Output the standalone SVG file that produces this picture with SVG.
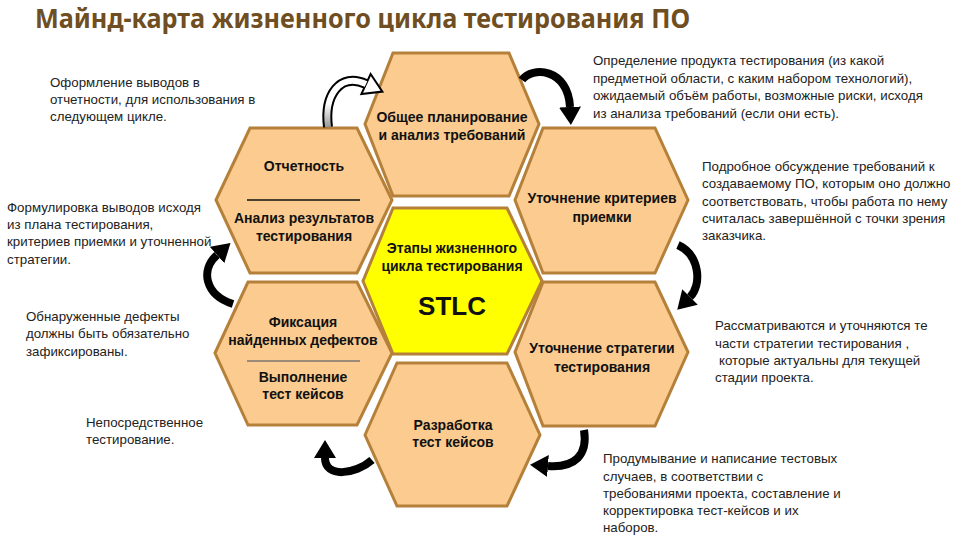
<svg xmlns="http://www.w3.org/2000/svg" width="965" height="537" viewBox="0 0 965 537">
<style>
.hex{fill:#FBCB8F;stroke:#B5803A;stroke-width:3;stroke-linejoin:miter}
.core{fill:#FFFF00;stroke:#B5803A;stroke-width:3}
.nt{font-family:"Liberation Sans",Arial,sans-serif;font-weight:bold;font-size:14px;fill:#111;text-anchor:middle}
.dt{font-family:"Liberation Sans",Arial,sans-serif;font-size:13.3px;fill:#222}
.arr{fill:none;stroke:#000;stroke-width:8;stroke-linecap:butt}
.title{font-family:"Noto Sans","Open Sans",sans-serif;font-weight:bold;font-size:26px;fill:#6F4E22}
</style>
<defs>
<marker id="ah" markerWidth="20" markerHeight="22" refX="0" refY="11" orient="auto" markerUnits="userSpaceOnUse">
<path d="M0,0 L18,11 L0,22 Z" fill="#000"/>
</marker>
<linearGradient id="g1" gradientUnits="userSpaceOnUse" x1="0" y1="75" x2="0" y2="127">
<stop offset="0" stop-color="#ffffff"/>
<stop offset="0.55" stop-color="#ffffff"/>
<stop offset="1" stop-color="#9a9a9a"/>
</linearGradient>
</defs>
<rect width="965" height="537" fill="#fff"/>
<text class="title" x="35" y="28" textLength="655" lengthAdjust="spacingAndGlyphs">Майнд-карта жизненного цикла тестирования ПО</text>

<g id="n-plan">
<polygon class="hex" points="365,124 393,53 509,53 539,124 509,196 393,196"/>
<text class="nt" x="452" y="122">Общее планирование</text>
<text class="nt" x="452" y="140">и анализ требований</text>
</g>
<g id="n-report">
<polygon class="hex" points="216,200 250,128 357,128 392,200 357,273 250,273"/>
<text class="nt" x="304" y="171">Отчетность</text>
<line x1="247" y1="200" x2="360" y2="200" stroke="#111" stroke-width="1.3"/>
<text class="nt" x="304" y="223">Анализ результатов</text>
<text class="nt" x="304" y="241">тестирования</text>
</g>
<g id="n-criteria">
<polygon class="hex" points="515,200 543,128 655,128 688,200 655,273 543,273"/>
<text class="nt" x="602" y="203">Уточнение критериев</text>
<text class="nt" x="602" y="222">приемки</text>
</g>
<g id="n-center">
<polygon class="core" points="363,281 393,208 507,208 542,281 507,354 393,354"/>
<text class="nt" x="452" y="253">Этапы жизненного</text>
<text class="nt" x="452" y="271">цикла тестирования</text>
<text class="nt" x="452" y="315" style="font-size:26px">STLC</text>
</g>
<g id="n-defects">
<polygon class="hex" points="215,353 248,282 357,282 392,353 357,425 248,425"/>
<text class="nt" x="303" y="327">Фиксация</text>
<text class="nt" x="303" y="345">найденных дефектов</text>
<line x1="247" y1="361" x2="360" y2="361" stroke="#9C8B78" stroke-width="2"/>
<text class="nt" x="303" y="382">Выполнение</text>
<text class="nt" x="303" y="399">тест кейсов</text>
</g>
<g id="n-strategy">
<polygon class="hex" points="515,352 543,282 655,282 688,352 655,426 543,426"/>
<text class="nt" x="602" y="353">Уточнение стратегии</text>
<text class="nt" x="602" y="372">тестирования</text>
</g>
<g id="n-cases">
<polygon class="hex" points="365,435 397,363 507,363 540,435 507,506 397,506"/>
<text class="nt" x="453" y="430">Разработка</text>
<text class="nt" x="453" y="447">тест кейсов</text>
</g>

<g id="connectors">
<path d="M328,127 C324,95 340,72 366,84" fill="none" stroke="#000" stroke-width="10"/>
<polygon points="370.6,74 382.4,91.6 361.4,94" fill="#fff" stroke="#000" stroke-width="2" stroke-linejoin="miter"/>
<path d="M328,127 C324,95 340,72 366,84" fill="none" stroke="url(#g1)" stroke-width="6"/>
<path class="arr" d="M522,80 C532,66 568,68 570,107" marker-end="url(#ah)"/>
<path class="arr" d="M678,245 C700,255 702,285 690,297" marker-end="url(#ah)"/>
<path class="arr" d="M584,430 C588,455 575,468 548,466" marker-end="url(#ah)"/>
<path class="arr" d="M372,460 C355,475 325,478 325,458" marker-end="url(#ah)"/>
<path class="arr" d="M233,304 C205,295 200,270 217,255" marker-end="url(#ah)"/>
</g>

<g id="notes">
<text class="dt" x="50" y="87">Оформление выводов в</text>
<text class="dt" x="50" y="104">отчетности, для использования в</text>
<text class="dt" x="50" y="121">следующем цикле.</text>

<text class="dt" x="7" y="212">Формулировка выводов исходя</text>
<text class="dt" x="7" y="229">из плана тестирования,</text>
<text class="dt" x="7" y="246">критериев приемки и уточненной</text>
<text class="dt" x="7" y="264">стратегии.</text>

<text class="dt" x="26" y="321">Обнаруженные дефекты</text>
<text class="dt" x="26" y="338">должны быть обязательно</text>
<text class="dt" x="26" y="356">зафиксированы.</text>

<text class="dt" x="86" y="427">Непосредственное</text>
<text class="dt" x="86" y="444">тестирование.</text>

<text class="dt" x="593" y="65">Определение продукта тестирования (из какой</text>
<text class="dt" x="593" y="83">предметной области, с каким набором технологий),</text>
<text class="dt" x="593" y="100">ожидаемый объём работы, возможные риски, исходя</text>
<text class="dt" x="593" y="118">из анализа требований (если они есть).</text>

<text class="dt" x="702" y="171">Подробное обсуждение требований к</text>
<text class="dt" x="702" y="188">создаваемому ПО, которым оно должно</text>
<text class="dt" x="702" y="206">соответствовать, чтобы работа по нему</text>
<text class="dt" x="702" y="223">считалась завершённой с точки зрения</text>
<text class="dt" x="702" y="240">заказчика.</text>

<text class="dt" x="715" y="330">Рассматриваются и уточняются те</text>
<text class="dt" x="715" y="348">части стратегии тестирования ,</text>
<text class="dt" x="719" y="365">которые актуальны для текущей</text>
<text class="dt" x="715" y="382">стадии проекта.</text>

<text class="dt" x="603" y="463">Продумывание и написание тестовых</text>
<text class="dt" x="603" y="481">случаев, в соответствии с</text>
<text class="dt" x="603" y="498">требованиями проекта, составление и</text>
<text class="dt" x="603" y="515">корректировка тест-кейсов и их</text>
<text class="dt" x="603" y="532">наборов.</text>
</g>
</svg>
